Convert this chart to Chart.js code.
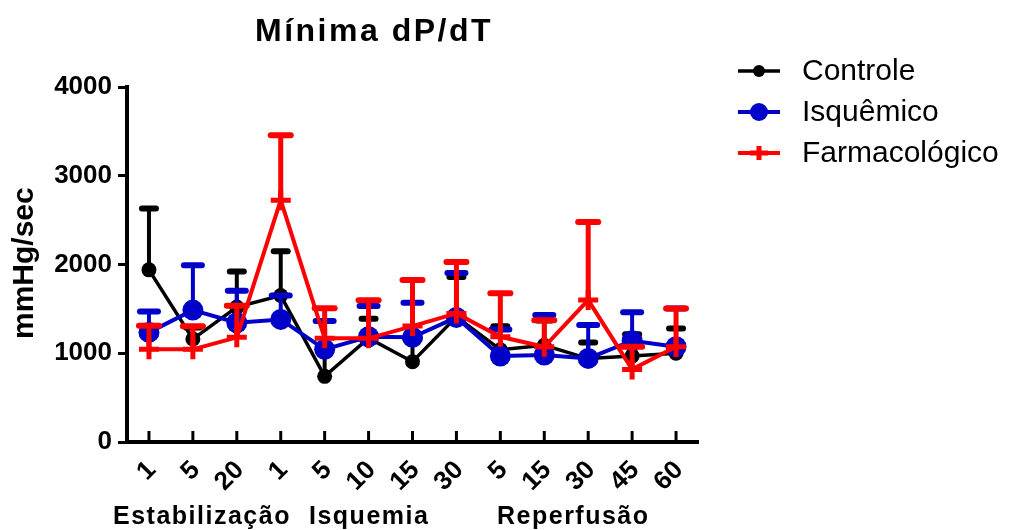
<!DOCTYPE html>
<html>
<head>
<meta charset="utf-8">
<title>Mínima dP/dT</title>
<script src="https://cdn.jsdelivr.net/npm/chart.js"></script>
<style>
  html, body { margin: 0; padding: 0; background: #fff; }
  #wrap { width: 1011px; height: 530px; }
</style>
</head>
<body>
<div id="wrap"><canvas id="chart" width="1011" height="530"></canvas></div>
<script>
// time points (min) per phase
const labels = ['1', '5', '20', '1', '5', '10', '15', '30', '5', '15', '30', '45', '60'];
const groups = ['Estabilização', 'Isquemia', 'Reperfusão'];

// mean values (mmHg/sec) and upper error (SEM)
const controle = [1940, 1160, 1520, 1650, 740, 1170, 905, 1410, 1040, 1090, 940, 970, 1000];
const controleSem = [690, 130, 400, 500, 330, 220, 250, 450, 265, 280, 180, 245, 280];

const isquemico = [1235, 1486, 1344, 1381, 1044, 1186, 1179, 1404, 968, 980, 942, 1141, 1073];
const isquemicoSem = [235, 505, 360, 270, 320, 345, 390, 500, 300, 450, 375, 320, 430];

const farmacologico = [1044, 1044, 1179, 2725, 1168, 1168, 1306, 1449, 1186, 1073, 1599, 818, 1073];
const farmacologicoSem = [265, 260, 355, 730, 340, 430, 520, 580, 490, 300, 880, 255, 430];

const yTicks = [0, 1000, 2000, 3000, 4000];

const FONT = "'Liberation Sans', Arial, Helvetica, sans-serif";
const BLACK = '#000000';
const BLUE = '#0000C8';
const RED = '#FF0000';

// upward error bars, drawn just before their own dataset
const errorBars = {
  id: 'errorBars',
  beforeDatasetDraw(chart, args) {
    const ds = chart.data.datasets[args.index];
    if (!ds.sem) return;
    const y = chart.scales.y;
    const ctx = chart.ctx;
    ctx.save();
    ctx.strokeStyle = ds.borderColor;
    args.meta.data.forEach((pt, i) => {
      const top = y.getPixelForValue(ds.data[i] + ds.sem[i]);
      ctx.lineWidth = ds.errWidth;
      ctx.lineCap = 'butt';
      ctx.beginPath();
      ctx.moveTo(pt.x, pt.y);
      ctx.lineTo(pt.x, top);
      ctx.stroke();
      ctx.lineWidth = 6;
      ctx.lineCap = 'round';
      ctx.beginPath();
      ctx.moveTo(pt.x - ds.capHalf, top);
      ctx.lineTo(pt.x + ds.capHalf, top);
      ctx.stroke();
    });
    ctx.restore();
  }
};

// inward x tick marks, title, axis title, phase labels and legend
const decorations = {
  id: 'decorations',
  afterDraw(chart) {
    const ctx = chart.ctx;
    const x = chart.scales.x;
    const bottom = chart.chartArea.bottom;
    ctx.save();

    ctx.strokeStyle = BLACK;
    ctx.lineWidth = 3;
    labels.forEach((l, i) => {
      const px = x.getPixelForTick(i);
      ctx.beginPath();
      ctx.moveTo(px, bottom);
      ctx.lineTo(px, bottom - 11);
      ctx.stroke();
    });

    ctx.fillStyle = BLACK;
    ctx.textBaseline = 'alphabetic';
    ctx.textAlign = 'left';

    // title
    ctx.font = 'bold 32px ' + FONT;
    ctx.letterSpacing = '2.5px';
    ctx.fillText('Mínima dP/dT', 255, 41);

    // y axis title
    ctx.save();
    ctx.font = 'bold 30px ' + FONT;
    ctx.letterSpacing = '0px';
    ctx.translate(33, 339);
    ctx.rotate(-Math.PI / 2);
    ctx.fillText('mmHg/sec', 0, 0);
    ctx.restore();

    // phase labels
    ctx.font = 'bold 25px ' + FONT;
    ctx.letterSpacing = '1.5px';
    const groupX = [113, 309, 497];
    groups.forEach((g, i) => ctx.fillText(g, groupX[i], 524));

    // legend
    ctx.letterSpacing = '0px';
    ctx.font = '30px ' + FONT;
    ctx.textBaseline = 'middle';
    const rowsY = [71, 112, 153];
    chart.data.datasets.forEach((ds, i) => {
      const ly = rowsY[i];
      ctx.strokeStyle = ds.borderColor;
      ctx.lineWidth = ds.borderWidth;
      ctx.lineCap = 'butt';
      ctx.beginPath();
      ctx.moveTo(738, ly);
      ctx.lineTo(780, ly);
      ctx.stroke();
      if (ds.pointStyle === 'cross') {
        ctx.lineWidth = 5;
        ctx.beginPath();
        ctx.moveTo(750, ly); ctx.lineTo(768, ly);
        ctx.moveTo(759, ly - 7); ctx.lineTo(759, ly + 7);
        ctx.stroke();
      } else {
        ctx.fillStyle = ds.pointBackgroundColor;
        ctx.beginPath();
        ctx.arc(759, ly, i === 0 ? 6 : 9, 0, Math.PI * 2);
        ctx.fill();
      }
      ctx.fillStyle = BLACK;
      ctx.fillText(ds.label, 802, ly + 1);
    });

    ctx.restore();
  }
};

new Chart(document.getElementById('chart'), {
  type: 'line',
  data: {
    labels: labels,
    datasets: [
      {
        label: 'Controle',
        data: controle,
        sem: controleSem,
        borderColor: BLACK,
        pointBackgroundColor: BLACK,
        borderWidth: 3.5,
        pointStyle: 'circle',
        pointRadius: 7.5,
        pointBorderWidth: 0,
        errWidth: 4,
        capHalf: 7,
        tension: 0,
        order: 3
      },
      {
        label: 'Isquêmico',
        data: isquemico,
        sem: isquemicoSem,
        borderColor: BLUE,
        pointBackgroundColor: BLUE,
        borderWidth: 4,
        pointStyle: 'circle',
        pointRadius: 10.5,
        pointBorderWidth: 0,
        errWidth: 4,
        capHalf: 9,
        tension: 0,
        order: 2
      },
      {
        label: 'Farmacológico',
        data: farmacologico,
        sem: farmacologicoSem,
        borderColor: RED,
        pointBackgroundColor: RED,
        pointBorderColor: RED,
        borderWidth: 4,
        pointStyle: 'cross',
        pointRadius: 10,
        pointBorderWidth: 5,
        errWidth: 5,
        capHalf: 10,
        tension: 0,
        order: 1
      }
    ]
  },
  options: {
    responsive: false,
    animation: false,
    layout: { padding: { left: 0, top: 87, right: 313, bottom: 0 } },
    plugins: {
      legend: { display: false },
      title: { display: false },
      tooltip: { enabled: false }
    },
    scales: {
      x: {
        type: 'category',
        offset: true,
        grid: { display: false, drawTicks: false },
        border: { display: true, color: BLACK, width: 4 },
        ticks: {
          color: BLACK,
          font: { family: FONT, size: 26, weight: 'bold' },
          minRotation: 45,
          maxRotation: 45,
          autoSkip: false,
          padding: 13,
          labelOffset: 3
        },
        afterFit(scale) { scale.height = 88; }
      },
      y: {
        min: 0,
        max: 4000,
        afterBuildTicks(scale) { scale.ticks = yTicks.map(v => ({ value: v })); },
        ticks: {
          color: BLACK,
          font: { family: FONT, size: 26, weight: 'bold' },
          padding: 6,
          callback: v => String(v)
        },
        grid: { drawOnChartArea: false, drawTicks: true, tickLength: 9, tickWidth: 3, tickColor: BLACK },
        border: { color: BLACK, width: 4 },
        afterFit(scale) { scale.width = 127; }
      }
    }
  },
  plugins: [errorBars, decorations]
});
</script>
</body>
</html>
